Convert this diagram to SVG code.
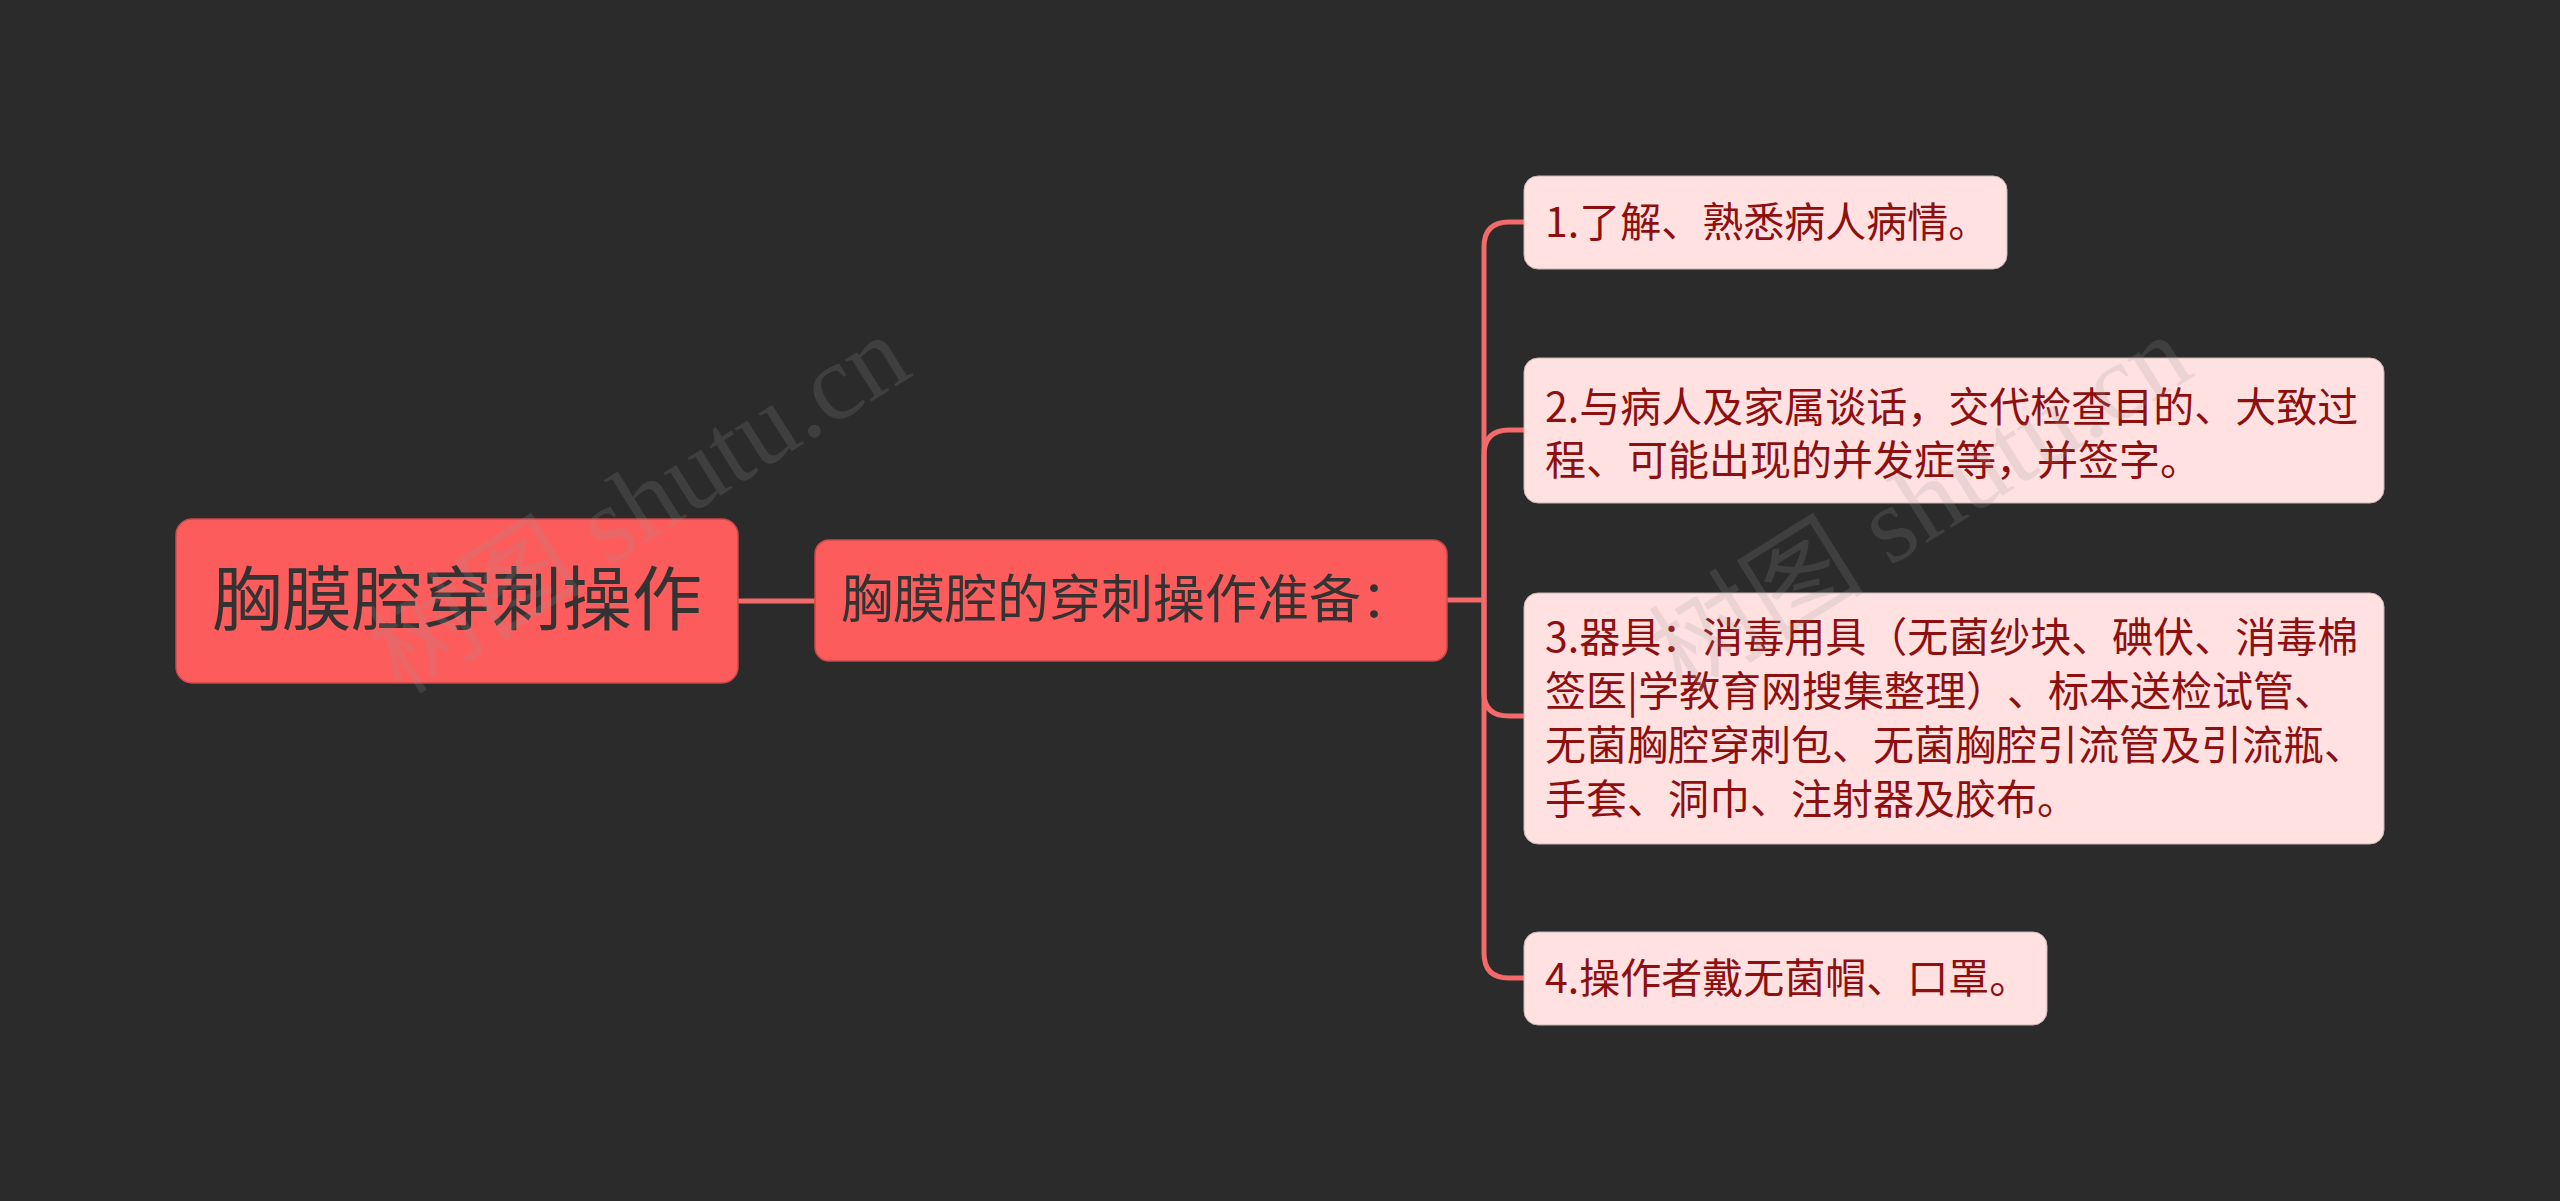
<svg xmlns="http://www.w3.org/2000/svg" width="2560" height="1201" viewBox="0 0 2560 1201">
<style>
.bg{fill:#2b2b2b}
.main{fill:#fd5c5c;stroke:#c94a4a;stroke-width:1.5}
.leaf{fill:#ffe1e1;stroke:#c9b5b5;stroke-width:1}
.t{font-family:"Noto Sans CJK SC","Noto Sans",sans-serif;text-spacing-trim:space-all}
.tr{fill:#333333;font-size:70px}
.tm{fill:#333333;font-size:52px}
.tl{fill:#8e0f0f;font-size:41px}
.edge{fill:none;stroke:#f36a6a;stroke-width:5;stroke-linejoin:round}
.wm{font-family:"Liberation Serif","Noto Sans CJK SC",serif;font-size:108px;fill:#9a9a9a;opacity:0.18}
</style>
<rect class="bg" x="0" y="0" width="2560" height="1201"/>
<g id="connectors">
<path class="edge" d="M738 601 H815"/>
<path class="edge" d="M1447 600 H1484 V247 Q1484 222 1509 222 H1524"/>
<path class="edge" d="M1484 600 V455 Q1484 430 1509 430 H1524"/>
<path class="edge" d="M1484 600 V693 Q1484 716 1509 716 H1524"/>
<path class="edge" d="M1484 600 V953 Q1484 978 1509 978 H1524"/>
</g>
<g id="root">
<rect class="main" x="176" y="519" width="562" height="164" rx="16"/>
<text class="t tr" x="457" y="625" text-anchor="middle">胸膜腔穿刺操作</text>
</g>
<g id="mid">
<rect class="main" x="815" y="540" width="632" height="121" rx="14"/>
<text class="t tm" x="841" y="618">胸膜腔的穿刺操作准备：</text>
</g>
<g id="leaf1">
<rect class="leaf" x="1524" y="176" width="483" height="93" rx="14"/>
<text class="t tl" x="1545" y="237">1.了解、熟悉病人病情。</text>
</g>
<g id="leaf2">
<rect class="leaf" x="1524" y="358" width="860" height="145" rx="14"/>
<text class="t tl" x="1545" y="422">2.与病人及家属谈话，交代检查目的、大致过</text>
<text class="t tl" x="1545" y="475">程、可能出现的并发症等，并签字。</text>
</g>
<g id="leaf3">
<rect class="leaf" x="1524" y="593" width="860" height="251" rx="14"/>
<text class="t tl" x="1545" y="652">3.器具：消毒用具（无菌纱块、碘伏、消毒棉</text>
<text class="t tl" x="1545" y="706">签医|学教育网搜集整理）、标本送检试管、</text>
<text class="t tl" x="1545" y="760">无菌胸腔穿刺包、无菌胸腔引流管及引流瓶、</text>
<text class="t tl" x="1545" y="814">手套、洞巾、注射器及胶布。</text>
</g>
<g id="leaf4">
<rect class="leaf" x="1524" y="932" width="523" height="93" rx="14"/>
<text class="t tl" x="1545" y="993">4.操作者戴无菌帽、口罩。</text>
</g>
<g id="watermarks">
<text class="wm" x="640" y="540" text-anchor="middle" transform="rotate(-32 640 506)">树图 shutu.cn</text>
<text class="wm" x="1922" y="540" text-anchor="middle" transform="rotate(-32 1922 506)">树图 shutu.cn</text>
</g>
</svg>
